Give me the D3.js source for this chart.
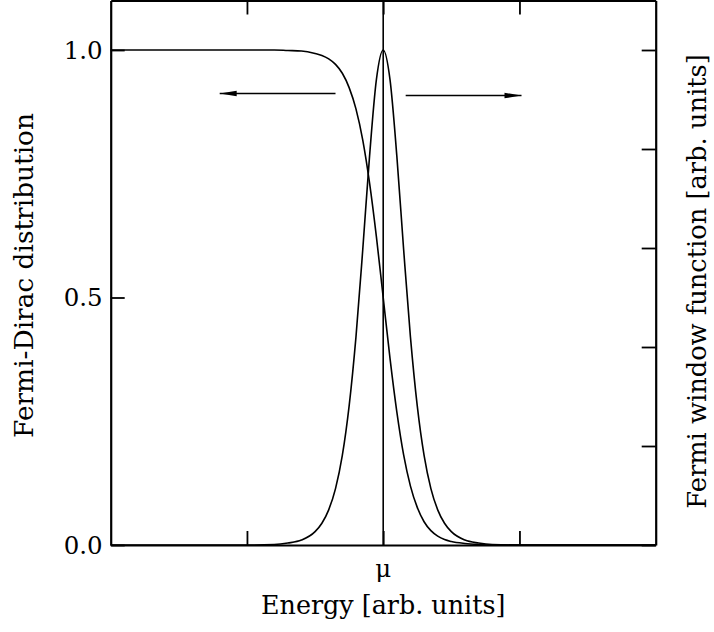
<!DOCTYPE html>
<html>
<head>
<meta charset="utf-8">
<script src="https://cdn.jsdelivr.net/npm/d3@7"></script>
<style>
  body { margin: 0; background: #fff; }
  .chart text { font-family: "DejaVu Serif", serif; fill: #000; }
</style>
</head>
<body>
<div class="chart"></div>
<script>
const WIDTH = 714;
const HEIGHT = 632;
const MARGIN = {TOP: 0.5, BOTTOM: 87, RIGHT: 58.3, LEFT: 110.7};
const innerWidth = WIDTH - MARGIN.LEFT - MARGIN.RIGHT;
const innerHeight = HEIGHT - MARGIN.TOP - MARGIN.BOTTOM;

// energy relative to mu
var energy = [-2.0, -1.5, -1.0, -0.8, -0.7, -0.6, -0.5, -0.45, -0.4, -0.35, -0.3, -0.25, -0.2, -0.15, -0.1, -0.05,
    0, 0.05, 0.1, 0.15, 0.2, 0.25, 0.3, 0.35, 0.4, 0.45, 0.5, 0.6, 0.7, 0.8, 1.0, 1.5, 2.0];
var fermiDirac = [1.000, 1.000, 1.000, 1.000, 0.999, 0.998, 0.993, 0.989, 0.982, 0.971, 0.953, 0.924, 0.881, 0.818, 0.731, 0.623,
    0.500, 0.377, 0.269, 0.182, 0.119, 0.076, 0.047, 0.029, 0.018, 0.011, 0.007, 0.003, 0.001, 0.000, 0.000, 0.000, 0.000];
var windowFn = [0.000, 0.000, 0.000, 0.001, 0.004, 0.010, 0.027, 0.044, 0.071, 0.114, 0.181, 0.281, 0.420, 0.597, 0.786, 0.940,
    1.000, 0.940, 0.786, 0.597, 0.420, 0.281, 0.181, 0.114, 0.071, 0.044, 0.027, 0.010, 0.004, 0.001, 0.000, 0.000, 0.000];

var leftTicks = [0.0, 0.5, 1.0];
var leftTickLabels = ['0.0', '0.5', '1.0'];
var rightTicks = [0.0, 0.2, 0.4, 0.6, 0.8, 1.0];
var xTicks = [-1, 0, 1];
var muTick = 0;
var muLabel = 'μ';

// arrows: [x start, x end, y]
var arrowLeft = [-0.35, -1.2, 0.912];
var arrowRight = [0.165, 1.015, 0.908];

var xScale = d3.scaleLinear().range([0, innerWidth]).domain([-2, 2]);
var yScale = d3.scaleLinear().range([innerHeight, 0]).domain([0, 1.1]);

var svg = d3.select('.chart').append('svg')
    .attr('width', WIDTH)
    .attr('height', HEIGHT);

svg.append('defs').append('marker')
    .attr('id', 'head')
    .attr('markerUnits', 'userSpaceOnUse')
    .attr('viewBox', '0 -4 18 8')
    .attr('refX', 17)
    .attr('refY', 0)
    .attr('markerWidth', 18)
    .attr('markerHeight', 8)
    .attr('orient', 'auto')
    .append('path')
    .attr('d', 'M0,-2.8L17,0L0,2.8Z')
    .attr('fill', '#000');

var mainGroup = svg.append('g')
    .attr('transform', 'translate(' + MARGIN.LEFT + ',' + MARGIN.TOP + ')');

var curve = d3.line()
    .x(function (d, i) { return xScale(energy[i]); })
    .y(function (d) { return yScale(d); })
    .curve(d3.curveMonotoneX);

mainGroup.append('path')
    .datum(fermiDirac)
    .attr('d', curve)
    .attr('fill', 'none')
    .attr('stroke', '#000')
    .attr('stroke-width', 1.6);

mainGroup.append('path')
    .datum(windowFn)
    .attr('d', curve)
    .attr('fill', 'none')
    .attr('stroke', '#000')
    .attr('stroke-width', 1.6);

// line at mu
mainGroup.append('line')
    .attr('x1', xScale(0)).attr('x2', xScale(0))
    .attr('y1', yScale(0)).attr('y2', yScale(1.1))
    .attr('stroke', '#000')
    .attr('stroke-width', 1.6);

[arrowLeft, arrowRight].forEach(function (a) {
    mainGroup.append('line')
        .attr('x1', xScale(a[0])).attr('x2', xScale(a[1]))
        .attr('y1', yScale(a[2])).attr('y2', yScale(a[2]))
        .attr('stroke', '#000')
        .attr('stroke-width', 1.6)
        .attr('marker-end', 'url(#head)');
});

var xAxisG = mainGroup.append('g')
    .attr('transform', 'translate(0,' + innerHeight + ')');
var xTopG = mainGroup.append('g');
var yAxisG = mainGroup.append('g');
var yRightG = mainGroup.append('g')
    .attr('transform', 'translate(' + innerWidth + ',0)');

xAxisG.call(d3.axisBottom(xScale).tickValues(xTicks).tickSizeInner(-14).tickSizeOuter(0));
xTopG.call(d3.axisTop(xScale).tickValues(xTicks).tickSizeInner(-14).tickSizeOuter(0));
yAxisG.call(d3.axisLeft(yScale).tickValues(leftTicks).tickSizeInner(-14).tickSizeOuter(0));
yRightG.call(d3.axisRight(yScale).tickValues(rightTicks).tickSizeInner(-14).tickSizeOuter(0));

// labels are drawn below as plain text
mainGroup.selectAll('.tick text').remove();

mainGroup.selectAll('.domain').attr('stroke', '#000').attr('stroke-width', 2.2);
mainGroup.selectAll('.tick line').attr('stroke', '#000').attr('stroke-width', 1.8);

mainGroup.selectAll('.ylab')
    .data(leftTicks)
    .enter().append('text')
    .attr('class', 'ylab')
    .attr('x', -8)
    .attr('y', function (d) { return yScale(d); })
    .attr('dy', '0.36em')
    .attr('text-anchor', 'end')
    .attr('font-size', 24.5)
    .text(function (d, i) { return leftTickLabels[i]; });

mainGroup.append('text')
    .attr('x', xScale(muTick))
    .attr('y', innerHeight + 32)
    .attr('text-anchor', 'middle')
    .attr('font-size', 24.5)
    .text(muLabel);

svg.append('text')
    .attr('x', MARGIN.LEFT + xScale(0))
    .attr('y', 614)
    .attr('text-anchor', 'middle')
    .attr('font-size', 25.4)
    .text('Energy [arb. units]');

svg.append('text')
    .attr('transform', 'translate(33,275.5) rotate(-90)')
    .attr('text-anchor', 'middle')
    .attr('font-size', 26.4)
    .text('Fermi-Dirac distribution');

svg.append('text')
    .attr('transform', 'translate(706,281.5) rotate(-90)')
    .attr('text-anchor', 'middle')
    .attr('font-size', 25.7)
    .text('Fermi window function [arb. units]');
</script>
</body>
</html>
